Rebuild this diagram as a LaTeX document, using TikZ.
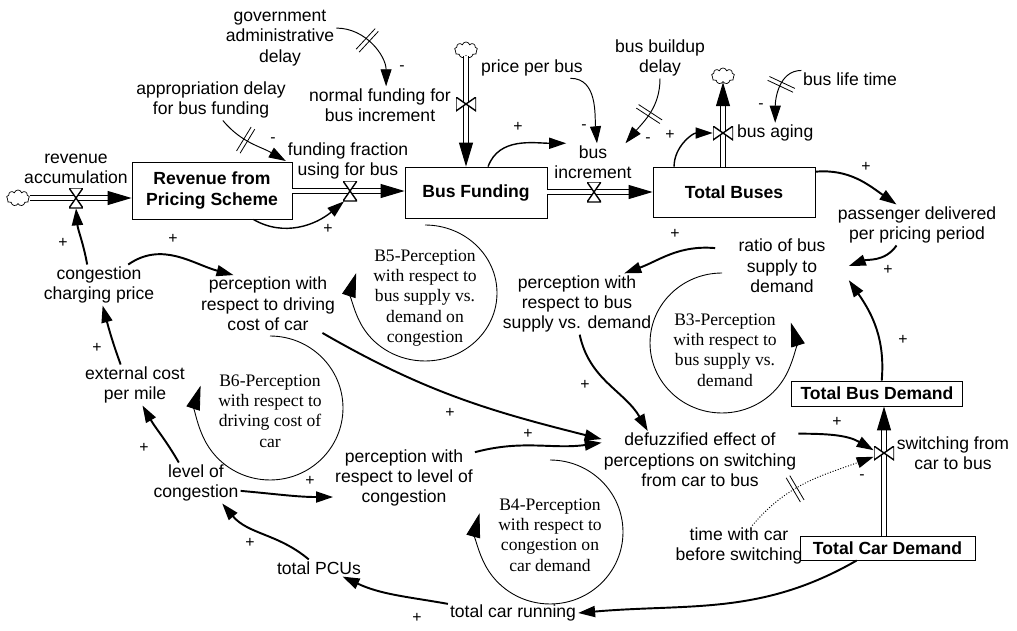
\documentclass[tikz,border=0pt]{standalone}
\usepackage{fontspec}
\setmainfont{Liberation Sans}
\newfontfamily\loopfont{Liberation Serif}
\usepackage{tikz}
\usetikzlibrary{arrows.meta}
\usetikzlibrary{decorations.markings}
\usetikzlibrary{shapes.symbols}
\tikzset{var/.style = {align=center, inner sep=1pt,
                       font=\fontsize{10}{11.6}\selectfont}}
\tikzset{stock/.style = {draw, line width=0.5pt, align=center, inner sep=1pt,
                         font=\fontsize{10}{11.6}\selectfont\bfseries}}
\tikzset{loopname/.style = {align=center, inner sep=0pt,
                            font=\loopfont\fontsize{10}{11.6}\selectfont}}
\tikzset{sign/.style = {inner sep=0pt, font=\fontsize{9}{9}\selectfont}}
\tikzset{link/.style = {line width=1.1pt, -{Triangle[length=0.34cm, width=0.22cm]}}}
\tikzset{midlink/.style = {link, line width=0.8pt}}
\tikzset{thinlink/.style = {link, line width=0.55pt}}
\tikzset{pipe/.style = {double, double distance=2.4pt, line width=0.6pt,
                        -{Triangle[length=0.48cm, width=0.28cm]}}}
\tikzset{loopline/.style = {line width=0.5pt, -{Triangle[length=0.48cm, width=0.28cm]}}}
\tikzset{cloudy/.style = {cloud, draw, cloud puffs=9, aspect=1.5, inner sep=0pt,
                          minimum width=0.46cm, minimum height=0.32cm, line width=0.4pt}}
\tikzset{delayed/.style = {decoration={markings,
                                       mark=at position #1 with {\draw[solid, -, line width=0.45pt]
                                         (-1.2pt,-8pt) -- (-1.2pt,8pt) (1.2pt,-8pt) -- (1.2pt,8pt);}},
                           postaction={decorate}}}
\tikzset{valve/.style = {minimum width=0.28cm, minimum height=0.4cm, inner sep=0pt,
                         path picture={\draw[fill=white, line width=0.8pt]
                           (path picture bounding box.north west) -- (path picture bounding box.north east)
                           -- (path picture bounding box.south west) -- (path picture bounding box.south east) -- cycle;}}}
\tikzset{hvalve/.style = {minimum width=0.4cm, minimum height=0.28cm, inner sep=0pt,
                          path picture={\draw[fill=white, line width=0.8pt]
                            (path picture bounding box.north west) -- (path picture bounding box.south west)
                            -- (path picture bounding box.north east) -- (path picture bounding box.south east) -- cycle;}}}

\begin{document}
\begin{tikzpicture}[x=0.02cm, y=-0.02cm]
      \useasboundingbox (0,0) rectangle (1017,630);

      \node[stock, minimum width=3.2cm, minimum height=1.14cm] (rev) at (212,190.5) {Revenue from\\Pricing Scheme};
      \node[stock, minimum width=2.84cm, minimum height=1.02cm] (busf) at (476,192.5) {Bus Funding};
      \node[stock, minimum width=3.24cm, minimum height=1.0cm] (buses) at (734,192) {Total Buses};
      \node[stock, minimum width=3.42cm, minimum height=0.5cm] (busdem) at (877,393.5) {Total Bus Demand};
      \node[stock, minimum width=3.5cm, minimum height=0.48cm] (cardem) at (887.5,548) {Total Car Demand};

      \node[cloudy] (cloudrev) at (18,198) {};
      \node[cloudy] (cloudbf) at (466,50) {};
      \node[cloudy] (cloudage) at (723,76) {};

      \coordinate (vrevp) at (76,198);
      \coordinate (vfundp) at (350,191);
      \coordinate (vincp) at (594,192);
      \coordinate (vswp) at (884,453);
      \draw[pipe] (cloudrev.east) -- (rev.west |- cloudrev.east);
      \draw[pipe] (rev.east |- vfundp) -- (busf.west |- vfundp);
      \draw[pipe] (busf.east |- vincp) -- (buses.west |- vincp);
      \draw[pipe] (cloudbf.south) -- (cloudbf.south |- busf.north);
      \draw[pipe] (cloudage.south |- buses.north) -- (cloudage.south);
      \draw[pipe] (vswp |- cardem.north) -- (vswp |- busdem.south);

      \node[valve] (vrev) at (vrevp) {};
      \node[valve] (vfund) at (vfundp) {};
      \node[valve] (vinc) at (vincp) {};
      \node[hvalve] (vbf) at (466,104) {};
      \node[hvalve] (vage) at (723,133) {};
      \node[hvalve] (vsw) at (vswp) {};

      \node[var] (revacc) at (76,169) {revenue\\accumulation};
      \node[var] (fundfrac) at (348,161) {funding fraction\\using for bus};
      \node[var] (govdelay) at (280,38) {government\\administrative\\delay};
      \node[var] (normfund) at (380,105) {normal funding for\\bus increment};
      \node[var] (appdelay) at (211,100) {appropriation delay\\for bus funding};
      \node[var] (price) at (532,68) {price per bus};
      \node[var] (buildup) at (660,58) {bus buildup\\delay};
      \node[var] (businc) at (593,162) {bus\\increment};
      \node[var, anchor=west] (busaging) at (735,133) {bus aging};
      \node[var] (lifetime) at (850,79) {bus life time};
      \node[var] (passenger) at (917,225) {passenger delivered\\per pricing period};
      \node[var, inner xsep=0.46cm] (ratio) at (782,266) {ratio of bus\\supply to\\demand};
      \node[var] (percbus) at (577,304) {perception with\\respect to bus\\supply vs. demand};
      \node[var] (defuzz) at (700,460) {defuzzified effect of\\perceptions on switching\\from car to bus};
      \node[var] (switching) at (953,453) {switching from\\car to bus};
      \node[var] (timecar) at (739,546) {time with car\\before switching};
      \node[var] (totcar) at (513,613) {total car running};
      \node[var] (pcus) at (319,568) {total PCUs};
      \node[var] (level) at (196,483) {level of\\congestion};
      \node[var] (perclevel) at (404,478) {perception with\\respect to level of\\congestion};
      \node[var] (extcost) at (135,385) {external cost\\per mile};
      \node[var] (charge) at (99,285) {congestion\\charging price};
      \node[var] (percdrive) at (268,304) {perception with\\respect to driving\\cost of car};

      \node[loopname] (b5) at (425,298) {B5-Perception\\with respect to\\bus supply vs.\\demand on\\congestion};
      \node[loopname] (b3) at (725,350) {B3-Perception\\with respect to\\bus supply vs.\\demand};
      \node[loopname] (b4) at (550,535) {B4-Perception\\with respect to\\congestion on\\car demand};
      \node[loopname] (b6) at (270,411) {B6-Perception\\with respect to\\driving cost of\\car};
      \draw[loopline] (425,225) arc[start angle=90, end angle=-197, x radius=1.44cm, y radius=1.36cm];
      \draw[loopline] (722,273) arc[start angle=90, end angle=377, x radius=1.44cm, y radius=1.4cm];
      \draw[loopline] (550,460) arc[start angle=90, end angle=-195, x radius=1.46cm, y radius=1.44cm];
      \draw[loopline] (270,336) arc[start angle=90, end angle=-198, x radius=1.46cm, y radius=1.44cm];

      \draw[link] (charge.120) to[out=100, in=-85] (vrev.south);
      \draw[link] (charge.35) to[out=35, in=165] (percdrive.140);
      \draw[link] (extcost.125) to[out=110, in=-75] (charge.-80);
      \draw[link] (level.130) to[out=120, in=-60] (extcost.-70);
      \draw[link] (pcus.140) to[out=140, in=-50] (level.-38);
      \draw[link] (totcar.172) to[out=170, in=-25] (pcus.-20);
      \draw[link] (cardem.-158) to[out=-150, in=5] (totcar.east);
      \draw[link] (level.-10) to[out=-5, in=180] (perclevel.-165);
      \draw[link] (perclevel.20) to[out=15, in=188] (defuzz.170);
      \draw[link] (percdrive.-28) to[out=-30, in=166] (defuzz.168);
      \draw[link] (percbus.-85) to[out=-78, in=120] (defuzz.151);
      \draw[link] (ratio.165) to[out=175, in=20] (percbus.33);
      \draw[link] (passenger.-135) to[out=-125, in=20] (ratio.east);
      \draw[link] (busdem.70) to[out=85, in=-55] (ratio.-12);
      \draw[link] (buses.14) to[out=5, in=145] (passenger.135);
      \draw[link] (defuzz.15) to[out=0, in=150] (vsw.165);
      \draw[thinlink, densely dotted, delayed=0.4] (timecar.57) to[out=50, in=200] (vsw.-160);
      \draw[thinlink, delayed=0.4] (govdelay.10) to[out=0, in=90] (normfund.72);
      \draw[thinlink, delayed=0.4] (appdelay.-60) to[out=-50, in=150] (fundfrac.west);
      \draw[midlink] (rev.-35) to[out=-30, in=-140] (vfund.-120);
      \draw[midlink] (busf.65) to[out=70, in=180] (businc.145);
      \draw[thinlink] (price.-15) to[out=0, in=95] (businc.78);
      \draw[thinlink, delayed=0.5] (buildup.south) to[out=-90, in=50] (businc.30);
      \draw[midlink] (buses.157) to[out=90, in=180] (vage.west);
      \draw[thinlink, delayed=0.4] (lifetime.170) to[out=180, in=90] (busaging.north);

      \foreach \x/\y/\s [count=\i] in {63/243/+, 173/239/+, 97/348/+, 144/448/+, 250/543/+,
                                       417/618/+, 310/481/+, 528/434/+, 450/413/+, 585/385/+,
                                       675/234/+, 888/270/+, 866/167/+, 903/340/+, 837/422/+,
                                       862/477/-, 402/68/-, 273/140/-, 328/229/+, 518/127/+,
                                       584/127/-, 648/140/-, 670/135/+, 761/106/-}
        \node[sign] (sg\i) at (\x,\y) {\s};
\end{tikzpicture}
\end{document}
